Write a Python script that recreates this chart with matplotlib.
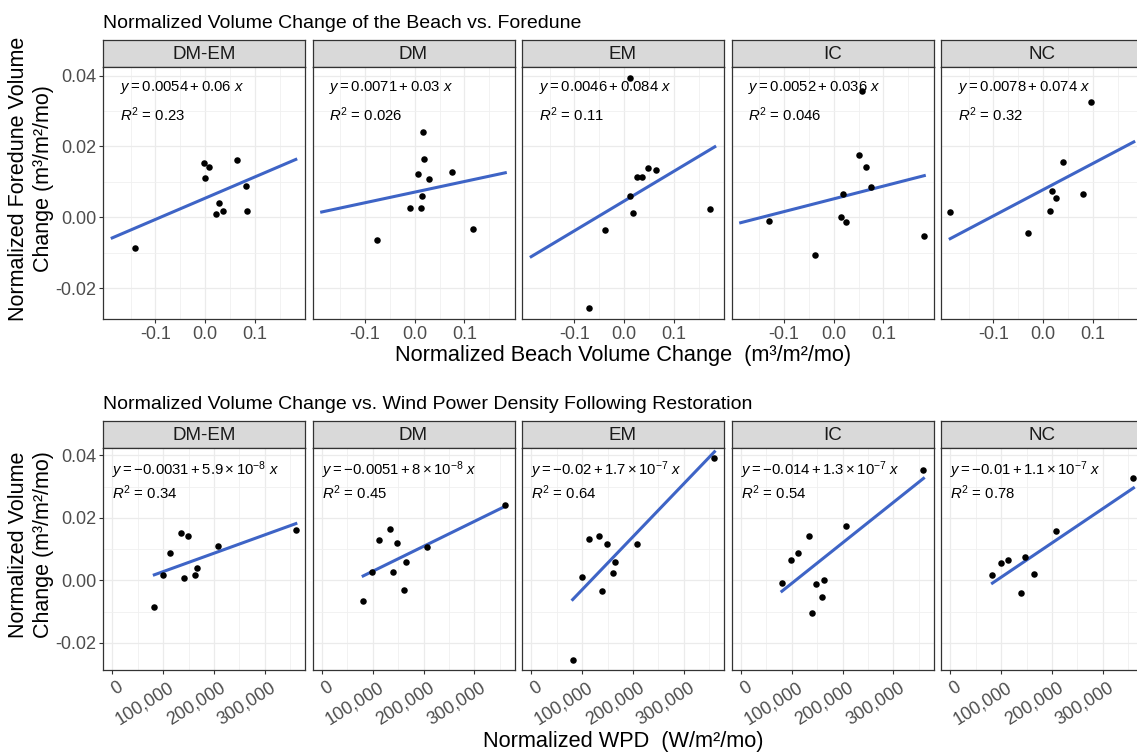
import numpy as np
import matplotlib.pyplot as plt
import matplotlib.transforms as mtransforms


plt.rcParams['font.family'] = ['Liberation Sans', 'DejaVu Sans']
plt.rcParams['mathtext.fontset'] = 'custom'
plt.rcParams['mathtext.rm'] = 'Liberation Sans'
plt.rcParams['mathtext.it'] = 'Liberation Sans:italic'

sites = ['DM-EM', 'DM', 'EM', 'IC', 'NC']

# --- top row: beach vs foredune volume change (m3/m2/mo)
beach_dmem = [-0.142, -0.003, 0.007, -0.001, 0.063, 0.081, 0.027, 0.022, 0.035, 0.083]
dune_dmem = [-0.0088, 0.0152, 0.0142, 0.0110, 0.0162, 0.0089, 0.0039, 0.0008, 0.0017, 0.0017]
beach_dm = [0.016, 0.019, 0.007, 0.029, 0.074, 0.015, -0.009, 0.012, -0.076, 0.117]
dune_dm = [0.0241, 0.0165, 0.0121, 0.0109, 0.0127, 0.0059, 0.0025, 0.0025, -0.0065, -0.0033]
beach_em = [0.011, 0.025, 0.035, 0.047, 0.063, 0.011, 0.017, -0.039, -0.071, 0.173]
dune_em = [0.0392, 0.0114, 0.0115, 0.0140, 0.0132, 0.0059, 0.0011, -0.0035, -0.0255, 0.0024]
beach_ic = [0.057, 0.051, 0.065, 0.075, 0.019, 0.015, 0.025, -0.131, -0.037, 0.182]
dune_ic = [0.0355, 0.0175, 0.0143, 0.0086, 0.0065, 0.0000, -0.0012, -0.0010, -0.0107, -0.0054]
beach_nc = [0.095, 0.039, 0.017, 0.025, 0.079, 0.013, -0.031, -0.187]
dune_nc = [0.0326, 0.0157, 0.0075, 0.0055, 0.0065, 0.0019, -0.0043, 0.0015]

top_icept = [0.0054, 0.0071, 0.0046, 0.0052, 0.0078]
top_slope = [0.06, 0.03, 0.084, 0.036, 0.074]
top_eq = [r'$y = 0.0054 + 0.06\ x$', r'$y = 0.0071 + 0.03\ x$', r'$y = 0.0046 + 0.084\ x$',
          r'$y = 0.0052 + 0.036\ x$', r'$y = 0.0078 + 0.074\ x$']
top_r2 = [r'$R^2$ = 0.23', r'$R^2$ = 0.026', r'$R^2$ = 0.11', r'$R^2$ = 0.046', r'$R^2$ = 0.32']

# --- bottom row: wind power density vs volume change
wpd_dmem = [360700, 134400, 148700, 114200, 208100, 165700, 161800, 141600, 99800, 82800]
vol_dmem = [0.0161, 0.0153, 0.0142, 0.0089, 0.0111, 0.0039, 0.0017, 0.0009, 0.0017, -0.0086]
wpd_dm = [360700, 133700, 113500, 147400, 206800, 165000, 99200, 140200, 161100, 81500]
vol_dm = [0.0242, 0.0166, 0.0129, 0.0121, 0.0108, 0.0059, 0.0026, 0.0026, -0.0032, -0.0065]
wpd_em = [360000, 113500, 134000, 148000, 208000, 165000, 160000, 99000, 140000, 81500]
vol_em = [0.0391, 0.0133, 0.0141, 0.0117, 0.0118, 0.0060, 0.0025, 0.0012, -0.0034, -0.0254]
wpd_ic = [359000, 207000, 134000, 113000, 98500, 81000, 147000, 164000, 160000, 140000]
vol_ic = [0.0354, 0.0174, 0.0143, 0.0087, 0.0065, -0.0009, -0.0012, 0.0002, -0.0052, -0.0106]
wpd_nc = [360000, 207000, 147000, 114000, 99000, 83000, 165000, 140000]
vol_nc = [0.0327, 0.0157, 0.0076, 0.0066, 0.0057, 0.0016, 0.0021, -0.0041]

bot_icept = [-0.0031, -0.0051, -0.02, -0.014, -0.01]
bot_slope = [5.9e-8, 8e-8, 1.7e-7, 1.3e-7, 1.1e-7]
bot_eq = [r'$y = -0.0031 + 5.9 \times 10^{-8}\ x$', r'$y = -0.0051 + 8 \times 10^{-8}\ x$',
          r'$y = -0.02 + 1.7 \times 10^{-7}\ x$', r'$y = -0.014 + 1.3 \times 10^{-7}\ x$',
          r'$y = -0.01 + 1.1 \times 10^{-7}\ x$']
bot_r2 = [r'$R^2$ = 0.34', r'$R^2$ = 0.45', r'$R^2$ = 0.64', r'$R^2$ = 0.54', r'$R^2$ = 0.78']

y_ticks = [-0.02, 0.0, 0.02, 0.04]
y_ticklabels = ['-0.02', '0.00', '0.02', '0.04']
top_xticks = [-0.1, 0.0, 0.1]
top_xticklabels = ['-0.1', '0.0', '0.1']
bot_xticks = [0, 100000, 200000, 300000]
bot_xticklabels = ['0', '100,000', '200,000', '300,000']

beach = [beach_dmem, beach_dm, beach_em, beach_ic, beach_nc]
dune = [dune_dmem, dune_dm, dune_em, dune_ic, dune_nc]
wpd = [wpd_dmem, wpd_dm, wpd_em, wpd_ic, wpd_nc]
vol = [vol_dmem, vol_dm, vol_em, vol_ic, vol_nc]

W, H = 1137, 754
fig = plt.figure(figsize=(W / 100, H / 100), dpi=100)

lefts = [103, 312.5, 522, 731.5, 941]
pw = 202
dark = '#333333'
line_col = '#3E64C6'


def px_axes(x0, top, w, h):
    return fig.add_axes([x0 / W, 1 - (top + h) / H, w / W, h / H])


def add_strip(x0, top, label):
    s = px_axes(x0, top, pw, 27)
    s.set_facecolor('#D9D9D9')
    s.set_xticks([])
    s.set_yticks([])
    for sp in s.spines.values():
        sp.set_color(dark)
        sp.set_linewidth(0.9)
    s.text(0.5, 0.47, label, ha='center', va='center', fontsize=13.5, color='#1A1A1A',
           transform=s.transAxes)


def style_panel(ax, first):
    ax.set_ylim(-0.0287, 0.0424)
    ax.set_yticks(y_ticks)
    ax.set_yticks([-0.01, 0.01, 0.03], minor=True)
    ax.set_yticklabels(y_ticklabels)
    ax.grid(which='major', color='#EBEBEB', linewidth=0.9)
    ax.grid(which='minor', color='#F0F0F0', linewidth=0.6)
    ax.set_axisbelow(True)
    ax.tick_params(which='minor', length=0)
    ax.tick_params(which='major', length=3, width=0.8, color=dark, labelsize=13,
                   labelcolor='#4D4D4D', pad=2)
    for sp in ax.spines.values():
        sp.set_color(dark)
        sp.set_linewidth(0.9)
    if not first:
        ax.tick_params(axis='y', length=0, labelleft=False)


top_min = min(min(b) for b in beach)
top_max = max(max(b) for b in beach)
shift = mtransforms.ScaledTranslation(5 / 100, -2 / 100, fig.dpi_scale_trans)

for i, site in enumerate(sites):
    # top row
    add_strip(lefts[i], 40, site)
    ax = px_axes(lefts[i], 67, pw, 252)
    style_panel(ax, i == 0)
    ax.set_xlim(-0.2055, 0.2005)
    ax.set_xticks(top_xticks)
    ax.set_xticks([-0.15, -0.05, 0.05, 0.15], minor=True)
    ax.set_xticklabels(top_xticklabels)
    xs = np.array([top_min, top_max])
    ax.plot(xs, top_icept[i] + top_slope[i] * xs, color=line_col, linewidth=2.2, zorder=2)
    ax.scatter(beach[i], dune[i], s=22, color='black', linewidths=0, zorder=3)
    ax.text(0.084, 0.92, top_eq[i], transform=ax.transAxes, fontsize=10.7, va='center')
    ax.text(0.084, 0.81, top_r2[i], transform=ax.transAxes, fontsize=10.7, va='center')

    # bottom row
    add_strip(lefts[i], 421, site)
    ax = px_axes(lefts[i], 448, pw, 222)
    style_panel(ax, i == 0)
    ax.set_xlim(-18000, 378700)
    ax.set_xticks(bot_xticks)
    ax.set_xticks([50000, 150000, 250000, 350000], minor=True)
    ax.set_xticklabels(bot_xticklabels, rotation=32, ha='right', rotation_mode='anchor')
    for lab in ax.get_xticklabels():
        lab.set_transform(lab.get_transform() + shift)
    xs = np.array([min(wpd[i]), max(wpd[i])])
    ax.plot(xs, bot_icept[i] + bot_slope[i] * xs, color=line_col, linewidth=2.2, zorder=2)
    ax.scatter(wpd[i], vol[i], s=22, color='black', linewidths=0, zorder=3)
    ax.text(0.045, 0.90, bot_eq[i], transform=ax.transAxes, fontsize=10.7, va='center')
    ax.text(0.045, 0.797, bot_r2[i], transform=ax.transAxes, fontsize=10.7, va='center')

fig.text(103 / W, 1 - 28 / H, 'Normalized Volume Change of the Beach vs. Foredune',
         fontsize=14, va='baseline', ha='left')
fig.text(103 / W, 1 - 409 / H,
         'Normalized Volume Change vs. Wind Power Density Following Restoration',
         fontsize=14, va='baseline', ha='left')

fig.text(623 / W, 1 - 355 / H, 'Normalized Beach Volume Change  (m³/m²/mo)',
         fontsize=15.7, ha='center', va='center')
fig.text(623 / W, 1 - 741 / H, 'Normalized WPD  (W/m²/mo)',
         fontsize=15.7, ha='center', va='center')

fig.text(31 / W, 1 - 179 / H, 'Normalized Foredune Volume\nChange (m³/m²/mo)',
         fontsize=15.5, rotation=90, ha='center', va='center', multialignment='center',
         linespacing=1.25)
fig.text(31 / W, 1 - 545 / H, 'Normalized Volume\nChange (m³/m²/mo)',
         fontsize=15.5, rotation=90, ha='center', va='center', multialignment='center',
         linespacing=1.25)

fig.savefig('out.png', dpi=100)
